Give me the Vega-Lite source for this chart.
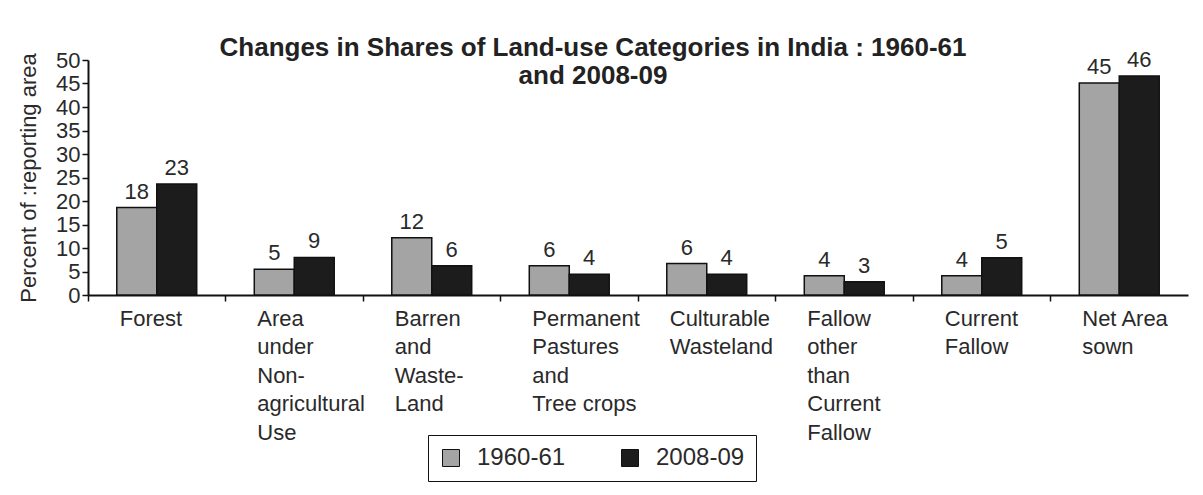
{
  "$schema": "https://vega.github.io/schema/vega-lite/v6.json",
  "width": 1100,
  "height": 235,
  "autosize": "none",
  "padding": {"left": 88, "top": 60, "right": 15, "bottom": 200},
  "background": "white",
  "title": {
    "text": ["Changes in Shares of Land-use Categories in India : 1960-61", "and 2008-09"],
    "anchor": "middle",
    "dx": -45,
    "offset": -40,
    "fontSize": 26,
    "fontWeight": "bold",
    "font": "Liberation Sans",
    "color": "#222222",
    "lineHeight": 28
  },
  "config": {
    "view": {"stroke": null},
    "font": "Liberation Sans"
  },
  "data": {
    "values": [
      {"category": "Forest", "year": "1960-61", "value": 18.6, "label": "18"},
      {"category": "Forest", "year": "2008-09", "value": 23.6, "label": "23"},
      {"category": "Area|under|Non-|agricultural|Use", "year": "1960-61", "value": 5.5, "label": "5"},
      {"category": "Area|under|Non-|agricultural|Use", "year": "2008-09", "value": 8.0, "label": "9"},
      {"category": "Barren|and|Waste-|Land", "year": "1960-61", "value": 12.2, "label": "12"},
      {"category": "Barren|and|Waste-|Land", "year": "2008-09", "value": 6.2, "label": "6"},
      {"category": "Permanent|Pastures|and|Tree crops", "year": "1960-61", "value": 6.2, "label": "6"},
      {"category": "Permanent|Pastures|and|Tree crops", "year": "2008-09", "value": 4.4, "label": "4"},
      {"category": "Culturable|Wasteland", "year": "1960-61", "value": 6.7, "label": "6"},
      {"category": "Culturable|Wasteland", "year": "2008-09", "value": 4.4, "label": "4"},
      {"category": "Fallow|other|than|Current|Fallow", "year": "1960-61", "value": 4.1, "label": "4"},
      {"category": "Fallow|other|than|Current|Fallow", "year": "2008-09", "value": 2.8, "label": "3"},
      {"category": "Current|Fallow", "year": "1960-61", "value": 4.1, "label": "4"},
      {"category": "Current|Fallow", "year": "2008-09", "value": 7.9, "label": "5"},
      {"category": "Net Area|sown", "year": "1960-61", "value": 45.1, "label": "45"},
      {"category": "Net Area|sown", "year": "2008-09", "value": 46.6, "label": "46"}
    ]
  },
  "encoding": {
    "x": {
      "field": "category",
      "type": "nominal",
      "sort": null,
      "scale": {"paddingInner": 0, "paddingOuter": 0},
      "axis": {
        "title": null,
        "bandPosition": 0,
        "labelAngle": 0,
        "labelAlign": "left",
        "labelBaseline": "top",
        "labelOffset": -37,
        "labelPadding": 7,
        "labelExpr": "split(datum.value, '|')",
        "labelFontSize": 22,
        "labelLineHeight": 28.5,
        "labelColor": "#2a2a2a",
        "labelFont": "Liberation Sans",
        "domainColor": "#111111",
        "domainWidth": 2,
        "tickColor": "#111111",
        "tickWidth": 1.5,
        "tickSize": 6,
        "labelLimit": 300
      }
    },
    "xOffset": {
      "field": "year",
      "type": "nominal",
      "scale": {"paddingInner": 0, "paddingOuter": 0.72}
    },
    "y": {
      "field": "value",
      "type": "quantitative",
      "scale": {"domain": [0, 50], "nice": false},
      "axis": {
        "title": "Percent of :reporting area",
        "titleFontSize": 22,
        "titleFontWeight": "normal",
        "titleColor": "#2a2a2a",
        "titlePadding": 15,
        "values": [0, 5, 10, 15, 20, 25, 30, 35, 40, 45, 50],
        "labelFontSize": 22,
        "labelColor": "#2a2a2a",
        "labelPadding": 2,
        "grid": false,
        "domainColor": "#111111",
        "domainWidth": 2,
        "tickColor": "#111111",
        "tickSize": 6,
        "tickWidth": 1.5
      }
    }
  },
  "layer": [
    {
      "mark": {"type": "bar", "stroke": "#111111", "strokeWidth": 1.5},
      "encoding": {
        "color": {
          "field": "year",
          "type": "nominal",
          "scale": {"domain": ["1960-61", "2008-09"], "range": ["#a4a4a4", "#1c1c1c"]},
          "legend": {
            "title": null,
            "orient": "none",
            "legendX": 340,
            "legendY": 375,
            "direction": "horizontal",
            "symbolType": "square",
            "symbolSize": 289,
            "symbolStrokeColor": "#111111",
            "symbolStrokeWidth": 1,
            "labelFontSize": 24,
            "labelColor": "#2a2a2a",
            "labelOffset": 14,
            "columnPadding": 52,
            "padding": 11,
            "strokeColor": "#111111"
          }
        }
      }
    },
    {
      "mark": {"type": "text", "baseline": "bottom", "dy": -4, "fontSize": 22, "color": "#2a2a2a"},
      "encoding": {
        "text": {"field": "label", "type": "nominal"}
      }
    }
  ]
}
